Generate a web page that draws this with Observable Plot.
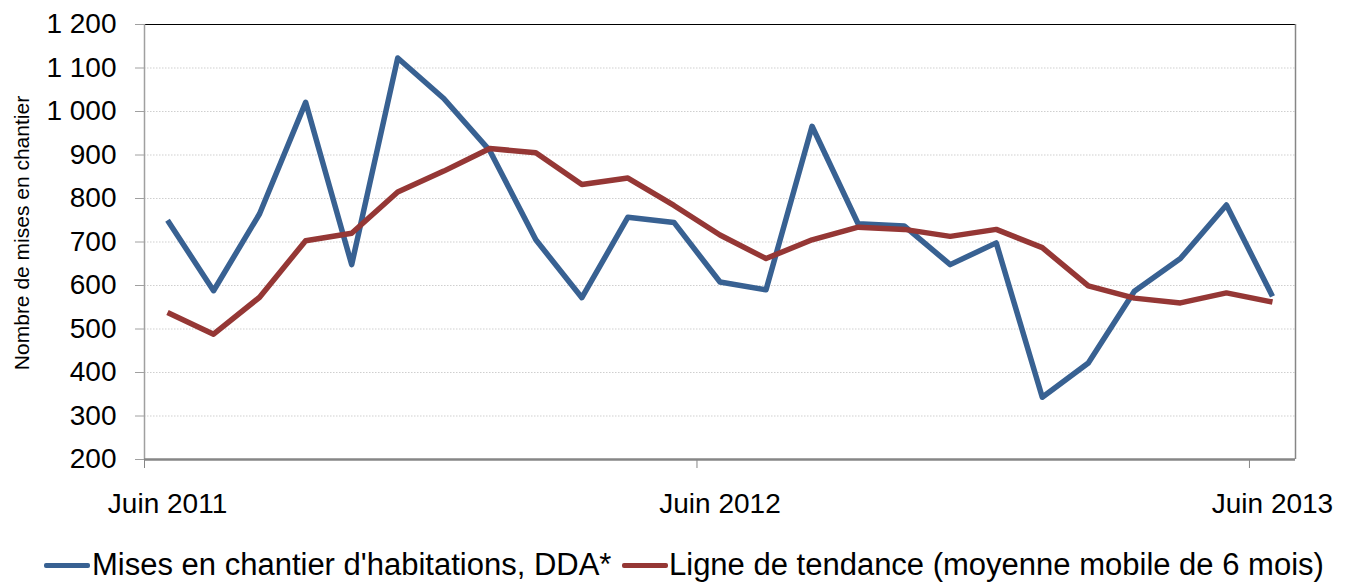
<!DOCTYPE html>
<html>
<head>
<meta charset="utf-8">
<script src="https://cdn.jsdelivr.net/npm/d3@7"></script>
<script src="https://cdn.jsdelivr.net/npm/@observablehq/plot@0.6"></script>
<style>
  html, body { margin: 0; padding: 0; background: #fff; }
  body { width: 1354px; height: 585px; overflow: hidden; font-family: "Liberation Sans", Arial, sans-serif; }
  #legend { position: relative; width: 1354px; height: 55px; font-size: 31px; color: #000; }
  #legend .sw { position: absolute; top: 33px; height: 5px; border-radius: 2px; }
  #legend .lab { position: absolute; top: 17px; line-height: 36px; white-space: nowrap; }
</style>
</head>
<body>
<div id="chart"></div>
<div id="legend"></div>
<script>
// ---- Data ----
const months = ["juin 2011","juil. 2011","août 2011","sept. 2011","oct. 2011","nov. 2011","déc. 2011",
  "janv. 2012","févr. 2012","mars 2012","avr. 2012","mai 2012","juin 2012","juil. 2012","août 2012",
  "sept. 2012","oct. 2012","nov. 2012","déc. 2012","janv. 2013","févr. 2013","mars 2013","avr. 2013",
  "mai 2013","juin 2013"];
const mises = [750, 588, 765, 1021, 648, 1123, 1030, 910, 705, 572, 757, 745, 608, 590, 966, 742,
  737, 648, 698, 343, 422, 587, 662, 785, 575];
const tendance = [538, 488, 573, 703, 720, 815, 863, 915, 905, 832, 847, 784, 716, 662, 705, 734,
  729, 713, 729, 687, 599, 571, 560, 583, 562];
const xTickLabels = ["Juin 2011", "Juin 2012", "Juin 2013"];
const xTickMonths = ["juin 2011", "juin 2012", "juin 2013"];
const yTicks = [200, 300, 400, 500, 600, 700, 800, 900, 1000, 1100, 1200];
const seriesNames = ["Mises en chantier d'habitations, DDA*", "Ligne de tendance (moyenne mobile de 6 mois)"];
const seriesColors = ["#386192", "#953735"];
const yTitle = "Nombre de mises en chantier";

// ---- Build ----
const rows = [];
months.forEach((m, i) => {
  rows.push({pos: i + 0.5, month: m, value: mises[i], serie: seriesNames[0]});
});
months.forEach((m, i) => {
  rows.push({pos: i + 0.5, month: m, value: tendance[i], serie: seriesNames[1]});
});
const labelPos = xTickMonths.map(m => months.indexOf(m) + 0.5);
const boundaryPos = xTickMonths.map(m => months.indexOf(m));
const fmt = d3.formatLocale({decimal: ",", thousands: "\u00a0", grouping: [3]}).format(",d");
const gridVals = yTicks.slice(1, -1);

const plot = Plot.plot({
  width: 1354,
  height: 530,
  marginLeft: 144,
  marginRight: 59,
  marginTop: 24,
  marginBottom: 71,
  style: {fontFamily: "'Liberation Sans', Arial, sans-serif", fontSize: "28px", color: "#000", background: "#fff"},
  x: {type: "linear", domain: [0, months.length]},
  y: {domain: [200, 1200]},
  color: {domain: seriesNames, range: seriesColors},
  marks: [
    Plot.ruleY(gridVals, {stroke: "#cfcfcf", strokeWidth: 1, strokeDasharray: "1.5,1.5"}),
    Plot.ruleY([yTicks[yTicks.length - 1]], {stroke: "#000", strokeWidth: 1}),
    Plot.ruleX([months.length], {stroke: "#868686", strokeWidth: 1.5}),
    Plot.ruleX([0], {stroke: "#a0a0a0", strokeWidth: 1.5}),
    Plot.axisY({ticks: yTicks, tickSize: 9, tickPadding: 19, tickFormat: fmt, stroke: "#a0a0a0", fill: "#000", fontSize: 28, label: null}),
    Plot.axisX({ticks: boundaryPos, tickSize: 9, tickFormat: () => "", stroke: "#868686", label: null}),
    Plot.axisX({ticks: labelPos, tickSize: 0, tickPadding: 34, tickFormat: (d) => xTickLabels[labelPos.indexOf(d)], fill: "#000", fontSize: 28, label: null}),
    Plot.ruleY([yTicks[0]], {stroke: "#868686", strokeWidth: 2.5}),
    Plot.line(rows, {x: "pos", y: "value", z: "serie", stroke: "serie", strokeWidth: 5.5, strokeLinejoin: "round", strokeLinecap: "butt"}),
    Plot.text([yTitle], {frameAnchor: "left", textAnchor: "middle", dx: -122, dy: -9, rotate: -90, fontSize: 21, fill: "#000"})
  ]
});
document.getElementById("chart").appendChild(plot);

// ---- Legend ----
const legend = document.getElementById("legend");
const legendLayout = [{sw: 44, txt: 92}, {sw: 622, txt: 669}];
seriesNames.forEach((name, i) => {
  const sw = document.createElement("div");
  sw.className = "sw";
  sw.style.left = legendLayout[i].sw + "px";
  sw.style.width = "46px";
  sw.style.background = seriesColors[i];
  legend.appendChild(sw);
  const t = document.createElement("div");
  t.className = "lab";
  t.style.left = legendLayout[i].txt + "px";
  t.textContent = name;
  legend.appendChild(t);
});
</script>
</body>
</html>
